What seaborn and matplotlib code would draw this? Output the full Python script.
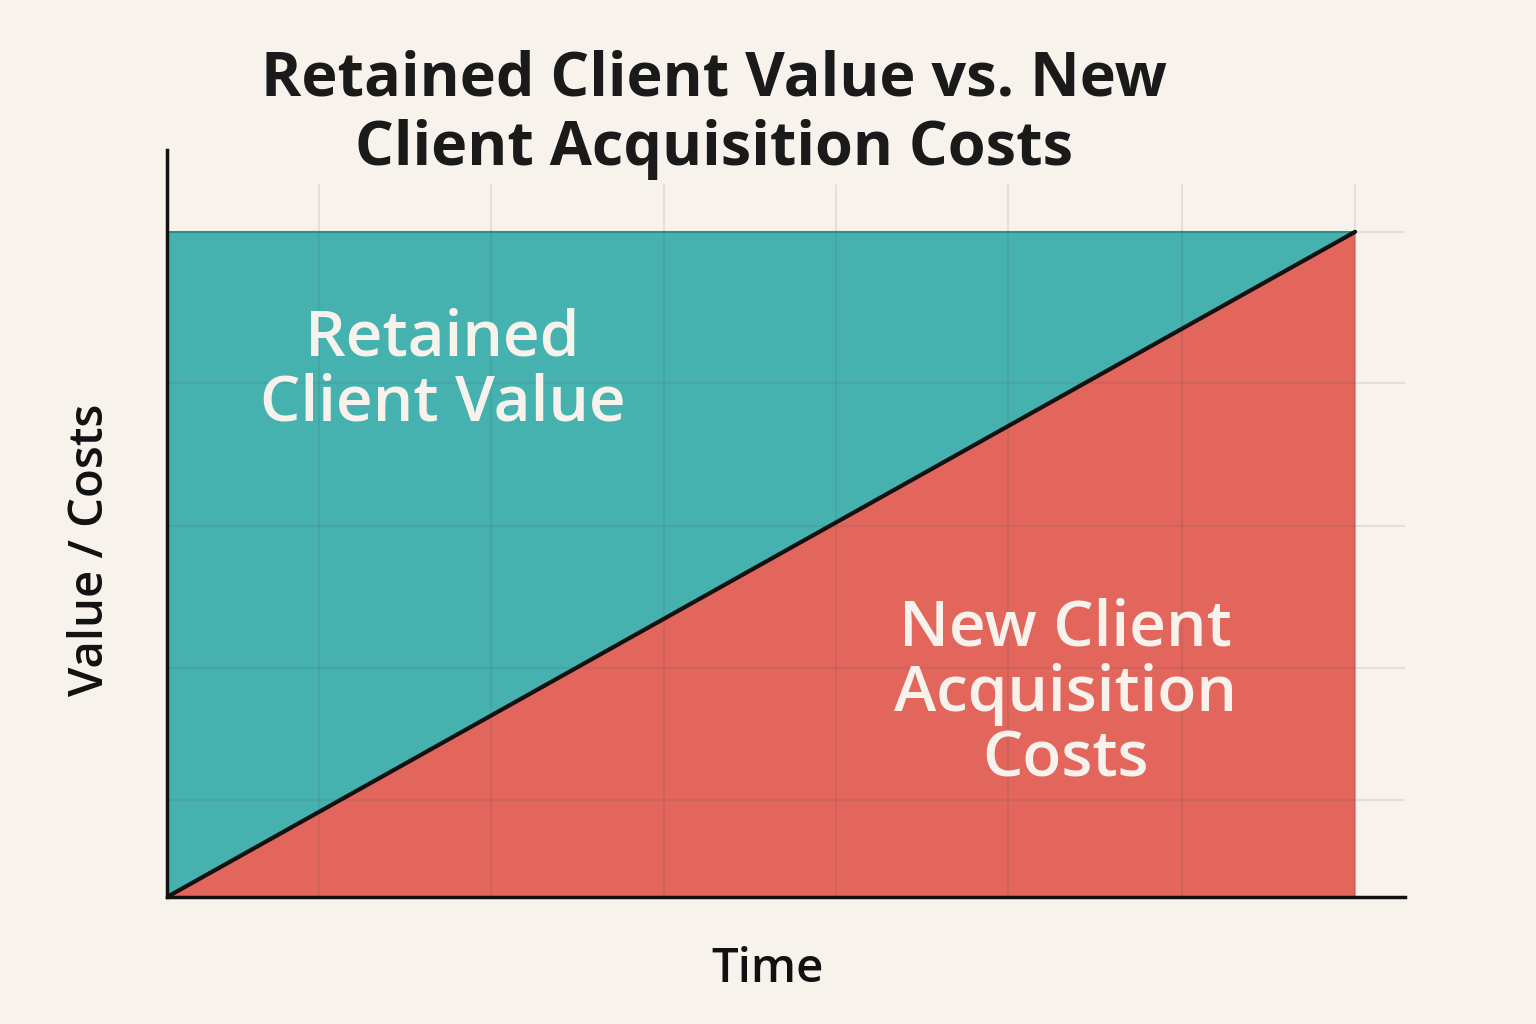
import matplotlib
matplotlib.use("Agg")
import matplotlib.pyplot as plt
import seaborn as sns
import pandas as pd

time = [0.0, 10.0]
total_value = [100.0, 100.0]
acquisition_cost = [0.0, 100.0]
xgrid = [1.28, 2.73, 4.18, 5.63, 7.08, 8.54, 10.0]
ygrid = [14.6, 34.4, 55.8, 77.3, 100.0]

sns.set_theme(style="white")
plt.rcParams['font.family'] = ['Open Sans', 'DejaVu Sans']
bg = "#F7F3EC"
fig = plt.figure(figsize=(15.36, 10.24), dpi=100, facecolor=bg)
ax = fig.add_axes([0.1087, 0.124, 0.806, 0.7295], facecolor=bg)

df = pd.DataFrame({"t": time, "v": total_value, "c": acquisition_cost})
ax.fill_between(df.t, df.c, df.v, color="#45B2AF", zorder=1, lw=0)
ax.fill_between(df.t, 0, df.c, color="#E2665C", zorder=1, lw=0)
ax.plot([0, 10], [100, 100], color="#2A9690", lw=1.5, zorder=2)
for x in xgrid:
    ax.axvline(x, ymax=107/112.3, color="#555555", alpha=0.12, lw=1.5, zorder=2)
for y in ygrid:
    ax.axhline(y, color="#555555", alpha=0.12, lw=1.5, zorder=2)
sns.lineplot(data=df, x="t", y="c", color="#111111", lw=3, ax=ax, zorder=3)

ax.set_xlim(0, 10.42)
ax.set_ylim(0, 112.3)
ax.set_xticks([]); ax.set_yticks([])
for s in ["top", "right"]:
    ax.spines[s].set_visible(False)
for s in ["left", "bottom"]:
    ax.spines[s].set_color("#111111"); ax.spines[s].set_linewidth(2.5)
ax.set_xlabel("Time", fontsize=34, fontweight="semibold", color="#111111")
ax.set_ylabel("Value / Costs", fontsize=34, fontweight="semibold", color="#111111")
ax.xaxis.set_label_coords(0.485, -0.065)
ax.yaxis.set_label_coords(-0.043, 0.465)

ax.text(2.32, 79, "Retained\nClient Value", ha="center", va="center", fontsize=46,
        fontweight="semibold", color="#F7F3EC", linespacing=1.05, zorder=4)
ax.text(7.56, 30.4, "New Client\nAcquisition\nCosts", ha="center", va="center", fontsize=46,
        fontweight="semibold", color="#F7F3EC", linespacing=1.05, zorder=4)
fig.text(0.465, 0.888, "Retained Client Value vs. New\nClient Acquisition Costs", ha="center",
         va="center", fontsize=44, fontweight="bold", color="#1A1A1A", linespacing=1.2)
fig.savefig("out.png", dpi=100, facecolor=bg)
